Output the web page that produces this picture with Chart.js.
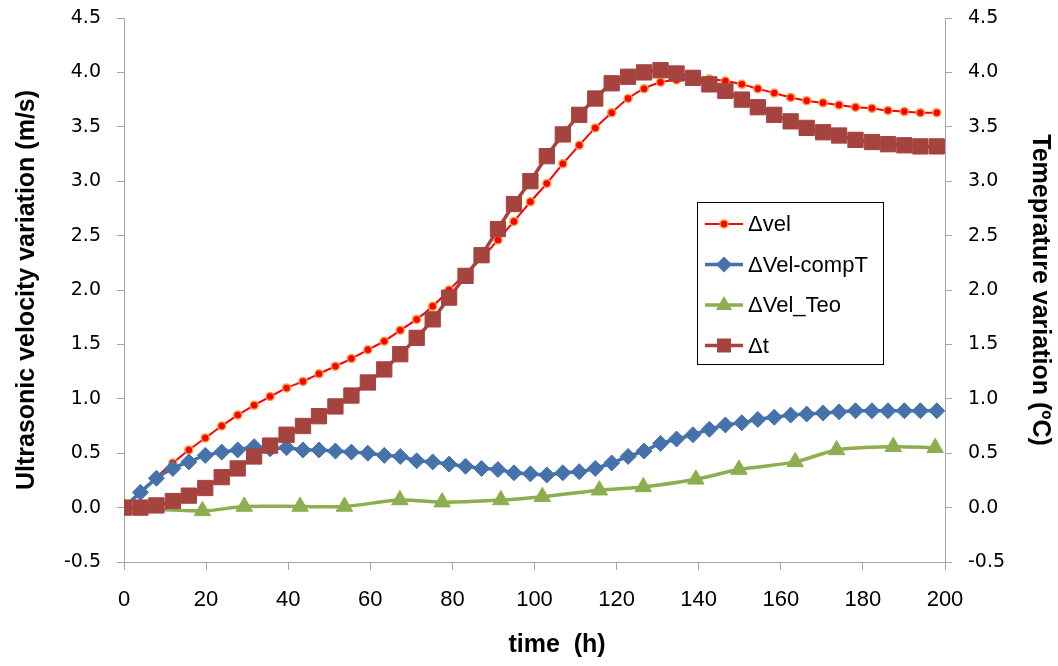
<!DOCTYPE html>
<html>
<head>
<meta charset="utf-8">
<script src="https://cdn.jsdelivr.net/npm/chart.js@4"></script>
<style>
  body { margin: 0; background: #fff; }
  #wrap { width: 1058px; height: 666px; }
</style>
</head>
<body>
<div id="wrap"><canvas id="velChart" width="1058" height="666"></canvas></div>
<script>
// sampling times (h) of the measured series
const hours = [0, 4.0, 7.9, 11.9, 15.8, 19.8, 23.8, 27.7, 31.7, 35.6, 39.6, 43.6, 47.5, 51.5, 55.4,
    59.4, 63.4, 67.3, 71.3, 75.2, 79.2, 83.2, 87.1, 91.1, 95.0, 99.0, 103.0, 106.9, 110.9, 114.8,
    118.8, 122.8, 126.7, 130.7, 134.6, 138.6, 142.6, 146.5, 150.5, 154.4, 158.4, 162.4, 166.3,
    170.3, 174.2, 178.2, 182.2, 186.1, 190.1, 194.0, 198.0];

const dVel = [0, 0.14, 0.28, 0.41, 0.53, 0.64, 0.75, 0.85, 0.94, 1.02,
    1.10, 1.16, 1.23, 1.30, 1.37, 1.45, 1.53, 1.63, 1.73, 1.85,
    2.00, 2.15, 2.29, 2.46, 2.63, 2.81, 2.98, 3.16, 3.33, 3.49,
    3.63, 3.76, 3.85, 3.91, 3.93, 3.94, 3.94, 3.92, 3.89, 3.85,
    3.81, 3.77, 3.74, 3.72, 3.70, 3.68, 3.67, 3.65, 3.64, 3.63, 3.63];

const dVelCompT = [0, 0.14, 0.27, 0.36, 0.42, 0.48, 0.51, 0.53, 0.56, 0.54,
    0.55, 0.53, 0.53, 0.52, 0.51, 0.50, 0.48, 0.47, 0.43, 0.42,
    0.40, 0.38, 0.36, 0.35, 0.32, 0.31, 0.30, 0.32, 0.33, 0.36,
    0.41, 0.47, 0.52, 0.59, 0.63, 0.67, 0.72, 0.76, 0.78, 0.81,
    0.83, 0.85, 0.86, 0.87, 0.88, 0.89, 0.89, 0.89, 0.89, 0.89, 0.89];

const dTemp = [0, 0, 0.02, 0.06, 0.11, 0.18, 0.28, 0.36, 0.47, 0.57,
    0.67, 0.75, 0.84, 0.93, 1.03, 1.15, 1.27, 1.41, 1.56, 1.73,
    1.93, 2.13, 2.32, 2.56, 2.79, 3.00, 3.23, 3.43, 3.61, 3.76,
    3.90, 3.96, 4.00, 4.02, 3.99, 3.95, 3.89, 3.83, 3.75, 3.68,
    3.61, 3.55, 3.49, 3.45, 3.42, 3.38, 3.36, 3.34, 3.33, 3.32, 3.32];

// theoretical curve has its own (sparser) times
const teoHours = [0, 19.1, 29.3, 42.9, 53.7, 67.2, 77.5, 91.8, 101.9, 115.8, 126.5, 139.3, 149.8, 163.5, 173.6, 187.4, 197.6];
const dVelTeo = [0, -0.03, 0.01, 0.01, 0.01, 0.07, 0.05, 0.07, 0.10, 0.16, 0.19, 0.26, 0.35, 0.42, 0.53, 0.56, 0.55];

const yTickValues = [-0.5, 0, 0.5, 1, 1.5, 2, 2.5, 3, 3.5, 4, 4.5];
const xTickValues = [0, 20, 40, 60, 80, 100, 120, 140, 160, 180, 200];

const seriesNames = ['\u0394vel', '\u0394Vel-compT', '\u0394Vel_Teo', '\u0394t'];

const RED = '#FF0000';
const RED_EDGE = '#F5A040';
const BLUE = '#4572AA';
const GREEN = '#8DAE4E';
const BROWN = '#A5433F';

function pairs(xs, ys) {
    return ys.map((y, i) => ({ x: xs[i], y: y }));
}

const datasets = [
    {
        label: seriesNames[0], data: pairs(hours, dVel), yAxisID: 'y',
        borderColor: RED, backgroundColor: RED, borderWidth: 2,
        pointStyle: 'circle', pointRadius: 4, pointBorderColor: RED_EDGE, pointBorderWidth: 1.5,
        tension: 0.3, order: 4
    },
    {
        label: seriesNames[1], data: pairs(hours, dVelCompT), yAxisID: 'y',
        borderColor: BLUE, backgroundColor: BLUE, borderWidth: 3.5,
        pointStyle: 'rectRot', pointRadius: 8, pointBorderWidth: 1,
        tension: 0.2, order: 3
    },
    {
        label: seriesNames[2], data: pairs(teoHours, dVelTeo), yAxisID: 'y',
        borderColor: GREEN, backgroundColor: GREEN, borderWidth: 3.5,
        pointStyle: 'triangle', pointRadius: 9.5, pointBorderWidth: 1,
        tension: 0.3, order: 2
    },
    {
        label: seriesNames[3], data: pairs(hours, dTemp), yAxisID: 'y1',
        borderColor: BROWN, backgroundColor: BROWN, borderWidth: 3.5,
        pointStyle: 'rect', pointRadius: 10.8, pointBorderWidth: 1,
        tension: 0.2, order: 1
    }
];

const axisGrey = '#A6A6A6';
const tickFontY = { family: 'DejaVu Sans', size: 19 };
const titleFont = { family: 'Liberation Sans', size: 25, weight: 'bold' };

function yAxis(position, titleText, width) {
    return {
        type: 'linear', position: position, min: -0.5, max: 4.5,
        afterBuildTicks: (scale) => { scale.ticks = yTickValues.map(v => ({ value: v })); },
        afterFit: (scale) => {
            scale.width = width;
            // tick padding is meant to be horizontal only
            scale.paddingTop = 6;
            scale.paddingBottom = 6;
        },
        grid: { drawOnChartArea: false, drawTicks: true, tickLength: 7, color: axisGrey },
        border: { display: true, color: axisGrey, width: 1 },
        ticks: {
            color: '#000', font: tickFontY, padding: 16,
            callback: (v) => Number(v).toFixed(1)
        },
        title: {
            display: true, text: titleText, color: '#000', font: titleFont,
            padding: position === 'left' ? { top: 12 } : { top: 3 }
        }
    };
}

// legend box drawn inside the plot, as in the original
const insideLegend = {
    id: 'insideLegend',
    afterDraw(chart) {
        const ctx = chart.ctx;
        const box = { x: 697, y: 202, w: 186, h: 162 };
        ctx.save();
        ctx.fillStyle = '#fff';
        ctx.fillRect(box.x, box.y, box.w, box.h);
        ctx.strokeStyle = '#000';
        ctx.lineWidth = 1;
        ctx.strokeRect(box.x + 0.5, box.y + 0.5, box.w, box.h);

        ctx.font = '22px "Liberation Sans"';
        ctx.textBaseline = 'middle';
        chart.data.datasets.forEach((ds, i) => {
            const y = box.y + 22 + i * 40.5;
            const x0 = box.x + 8, x1 = box.x + 46, cx = (x0 + x1) / 2;
            ctx.strokeStyle = ds.borderColor;
            ctx.lineWidth = ds.borderWidth;
            ctx.beginPath();
            ctx.moveTo(x0, y);
            ctx.lineTo(x1, y);
            ctx.stroke();
            ctx.fillStyle = ds.backgroundColor;
            ctx.beginPath();
            if (ds.pointStyle === 'circle') {
                ctx.arc(cx, y, 4, 0, Math.PI * 2);
                ctx.fill();
                ctx.strokeStyle = RED_EDGE;
                ctx.lineWidth = 1.5;
                ctx.stroke();
            } else if (ds.pointStyle === 'rectRot') {
                ctx.moveTo(cx - 8, y); ctx.lineTo(cx, y - 8);
                ctx.lineTo(cx + 8, y); ctx.lineTo(cx, y + 8);
                ctx.closePath(); ctx.fill();
            } else if (ds.pointStyle === 'triangle') {
                ctx.moveTo(cx, y - 9); ctx.lineTo(cx + 8, y + 5);
                ctx.lineTo(cx - 8, y + 5);
                ctx.closePath(); ctx.fill();
            } else {
                ctx.rect(cx - 7, y - 7, 14, 14);
                ctx.fill();
            }
            ctx.fillStyle = '#000';
            ctx.fillText(ds.label, box.x + 51, y + 1);
        });
        ctx.restore();
    }
};

// x-axis title sits a little right of centre in the original
const xTitle = {
    id: 'xTitle',
    afterDraw(chart) {
        const ctx = chart.ctx;
        ctx.save();
        ctx.font = 'bold 25px "Liberation Sans"';
        ctx.fillStyle = '#000';
        ctx.textAlign = 'center';
        ctx.textBaseline = 'middle';
        ctx.fillText('time  (h)', 557, 645);
        ctx.restore();
    }
};

const ctx = document.getElementById('velChart').getContext('2d');
const chart = new Chart(ctx, {
    type: 'line',
    data: { datasets: datasets },
    options: {
        responsive: false,
        animation: false,
        events: [],
        layout: { padding: { top: 18, left: 0, right: 0, bottom: 0 } },
        plugins: { legend: { display: false }, tooltip: { enabled: false } },
        scales: {
            x: {
                type: 'linear', position: 'bottom', min: 0, max: 200,
                afterBuildTicks: (scale) => { scale.ticks = xTickValues.map(v => ({ value: v })); },
                afterFit: (scale) => { scale.height = 104; },
                grid: { drawOnChartArea: false, drawTicks: true, tickLength: 8, color: axisGrey },
                border: { display: true, color: axisGrey, width: 1 },
                ticks: { color: '#000', font: { family: 'Liberation Sans', size: 22 }, padding: 17, maxRotation: 0 }
            },
            y: yAxis('left', 'Ultrasonic velocity variation (m/s)', 124),
            y1: yAxis('right', 'Temeprature variation (\u00BAC)', 113)
        }
    },
    plugins: [insideLegend, xTitle]
});
</script>
</body>
</html>
